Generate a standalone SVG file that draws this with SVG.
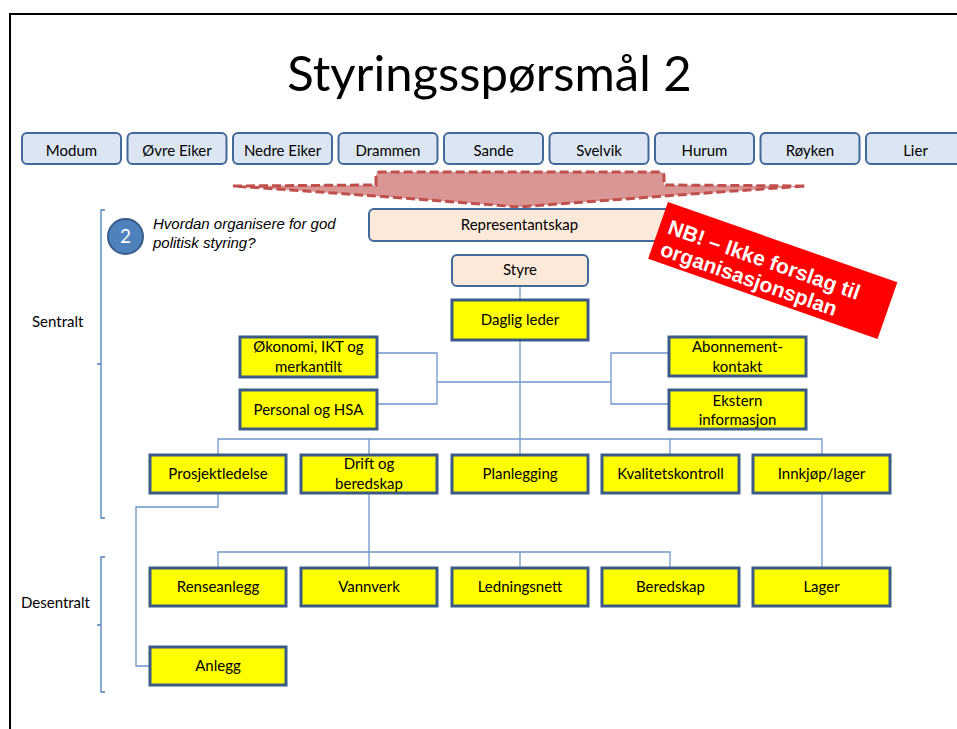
<svg xmlns="http://www.w3.org/2000/svg" width="957" height="729" viewBox="0 0 957 729">
  <style>
    .lbl { font-family: Lato, "Liberation Sans", sans-serif; font-size: 15px; fill: #000; text-anchor: middle; }
    .muni rect { fill: #dce6f2; stroke: #41699a; stroke-width: 2; }
    .peach rect { fill: #fde9d9; stroke: #41699a; stroke-width: 2; }
    .unit rect { fill: #ffff00; stroke: #3b5b86; stroke-width: 3; }
    .conn { fill: none; stroke: #6e97cb; stroke-width: 1.3; }
    .bracket { fill: none; stroke: #4a7ebb; stroke-width: 1.3; }
    .side { font-family: Lato, "Liberation Sans", sans-serif; font-size: 15px; fill: #000; }
  </style>

  <rect x="0" y="0" width="957" height="729" fill="#ffffff"/>

  <!-- slide frame -->
  <path d="M10,729 V14 H957" fill="none" stroke="#000" stroke-width="2"/>

  <!-- title -->
  <text x="489.5" y="91" font-family="Lato, 'Liberation Sans', sans-serif" font-size="49" text-anchor="middle" fill="#000">Styringsspørsmål 2</text>

  <!-- municipalities -->
  <g id="municipalities">
    <g id="m-modum" class="muni"><rect x="22" y="133" width="99" height="31" rx="5"/><text class="lbl" x="71.5" y="155.5">Modum</text></g>
    <g id="m-ovre-eiker" class="muni"><rect x="127.5" y="133" width="99" height="31" rx="5"/><text class="lbl" x="177" y="155.5">Øvre Eiker</text></g>
    <g id="m-nedre-eiker" class="muni"><rect x="233" y="133" width="99" height="31" rx="5"/><text class="lbl" x="282.5" y="155.5">Nedre Eiker</text></g>
    <g id="m-drammen" class="muni"><rect x="338.5" y="133" width="99" height="31" rx="5"/><text class="lbl" x="388" y="155.5">Drammen</text></g>
    <g id="m-sande" class="muni"><rect x="444" y="133" width="99" height="31" rx="5"/><text class="lbl" x="493.5" y="155.5">Sande</text></g>
    <g id="m-svelvik" class="muni"><rect x="549.5" y="133" width="99" height="31" rx="5"/><text class="lbl" x="599" y="155.5">Svelvik</text></g>
    <g id="m-hurum" class="muni"><rect x="655" y="133" width="99" height="31" rx="5"/><text class="lbl" x="704.5" y="155.5">Hurum</text></g>
    <g id="m-royken" class="muni"><rect x="760.5" y="133" width="99" height="31" rx="5"/><text class="lbl" x="810" y="155.5">Røyken</text></g>
    <g id="m-lier" class="muni"><rect x="866" y="133" width="99" height="31" rx="5"/><text class="lbl" x="915.5" y="155.5">Lier</text></g>
  </g>

  <!-- merge arrow -->
  <path id="merge-arrow" d="M233,186 L376,185 L376,176 Q376,172 380,172 L660,172 Q664,172 664,176 L664,185 L806,186 Q660,196 520,207 Q380,196 233,186 Z"
        fill="#d99694" stroke="#c0504d" stroke-width="3" stroke-dasharray="9,4"/>

  <!-- level brackets -->
  <path class="bracket" d="M105,210 H101 V518 H105 M101,364 H97"/>
  <path class="bracket" d="M105,557 H101 V692 H105 M101,625 H97"/>
  <text class="side" x="32" y="327">Sentralt</text>
  <text class="side" x="21" y="608">Desentralt</text>

  <!-- question -->
  <g id="question">
    <circle cx="125.5" cy="236.5" r="17.5" fill="#4f81bd" stroke="#385d8a" stroke-width="2"/>
    <text x="125.5" y="243" font-family="Lato, 'Liberation Sans', sans-serif" font-size="19" fill="#fff" text-anchor="middle">2</text>
    <text font-family="'Liberation Sans', Arial, sans-serif" font-style="italic" font-size="15" fill="#000">
      <tspan x="153" y="229">Hvordan organisere for god</tspan>
      <tspan x="153" y="248">politisk styring?</tspan>
    </text>
  </g>

  <!-- connectors -->
  <g id="connectors">
    <path class="conn" d="M520,286 V300 M520,340 V455
      M377,353 H437 V404 H377 M437,382 H611
      M669,353 H611 V404 H669
      M218,455 V439 H822 V455 M369,439 V455 M670,439 V455
      M218,493 V507 H136 V666 H150
      M369,493 V568 M218,568 V552 H670 V568 M520,552 V568
      M822,493 V568"/>
  </g>

  <!-- governance -->
  <g id="representantskap" class="peach"><rect x="369" y="209" width="301" height="32" rx="5"/><text class="lbl" x="519.5" y="230">Representantskap</text></g>
  <g id="styre" class="peach"><rect x="452" y="255" width="136" height="31" rx="5"/><text class="lbl" x="520" y="275">Styre</text></g>

  <!-- central units -->
  <g id="daglig-leder" class="unit"><rect x="452" y="300" width="136" height="40"/><text class="lbl" x="520" y="325">Daglig leder</text></g>
  <g id="okonomi" class="unit"><rect x="240" y="337" width="137" height="40"/><text class="lbl"><tspan x="308.5" y="352">Økonomi, IKT og</tspan><tspan x="308.5" y="372">merkantilt</tspan></text></g>
  <g id="personal" class="unit"><rect x="240" y="390" width="137" height="39"/><text class="lbl" x="308.5" y="415">Personal og HSA</text></g>
  <g id="abonnement" class="unit"><rect x="669" y="337" width="137" height="39"/><text class="lbl"><tspan x="737.5" y="352">Abonnement-</tspan><tspan x="737.5" y="372">kontakt</tspan></text></g>
  <g id="ekstern" class="unit"><rect x="669" y="390" width="137" height="39"/><text class="lbl"><tspan x="737.5" y="406">Ekstern</tspan><tspan x="737.5" y="425">informasjon</tspan></text></g>

  <g id="prosjektledelse" class="unit"><rect x="150" y="455" width="136" height="38"/><text class="lbl" x="218" y="479">Prosjektledelse</text></g>
  <g id="drift" class="unit"><rect x="301" y="455" width="136" height="38"/><text class="lbl"><tspan x="369" y="469">Drift og</tspan><tspan x="369" y="489">beredskap</tspan></text></g>
  <g id="planlegging" class="unit"><rect x="452" y="455" width="136" height="38"/><text class="lbl" x="520" y="479">Planlegging</text></g>
  <g id="kvalitetskontroll" class="unit"><rect x="602" y="455" width="137" height="38"/><text class="lbl" x="670.5" y="479">Kvalitetskontroll</text></g>
  <g id="innkjop" class="unit"><rect x="753" y="455" width="137" height="38"/><text class="lbl" x="821.5" y="479">Innkjøp/lager</text></g>

  <!-- decentral units -->
  <g id="renseanlegg" class="unit"><rect x="150" y="568" width="136" height="38"/><text class="lbl" x="218" y="592">Renseanlegg</text></g>
  <g id="vannverk" class="unit"><rect x="301" y="568" width="136" height="38"/><text class="lbl" x="369" y="592">Vannverk</text></g>
  <g id="ledningsnett" class="unit"><rect x="452" y="568" width="136" height="38"/><text class="lbl" x="520" y="592">Ledningsnett</text></g>
  <g id="beredskap" class="unit"><rect x="602" y="568" width="137" height="38"/><text class="lbl" x="670.5" y="592">Beredskap</text></g>
  <g id="lager" class="unit"><rect x="753" y="568" width="137" height="38"/><text class="lbl" x="821.5" y="592">Lager</text></g>
  <g id="anlegg" class="unit"><rect x="150" y="647" width="136" height="38"/><text class="lbl" x="218" y="671">Anlegg</text></g>

  <!-- NB stamp -->
  <g id="nb-stamp" transform="translate(668,202) rotate(19.3)">
    <rect x="0" y="0" width="243" height="60" fill="#ff0000"/>
    <text font-family="'Liberation Sans', Arial, sans-serif" font-weight="bold" font-size="21" fill="#fff">
      <tspan x="9" y="30">NB! – Ikke forslag til</tspan>
      <tspan x="9" y="53">organisasjonsplan</tspan>
    </text>
  </g>
</svg>
